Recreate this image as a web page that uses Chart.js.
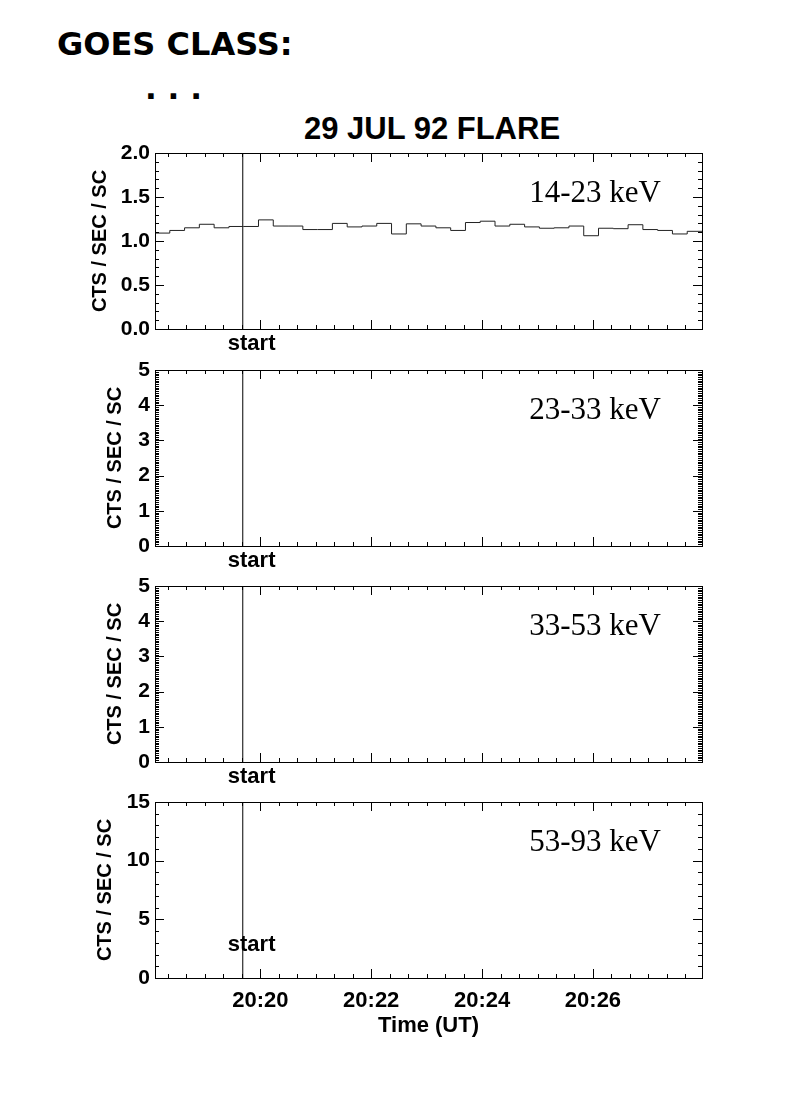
<!DOCTYPE html>
<html>
<head>
<meta charset="utf-8">
<script src="https://cdn.jsdelivr.net/npm/chart.js@4.4.0/dist/chart.umd.min.js"></script>
<style>
  body { margin: 0; background: #fff; }
  #page { position: relative; width: 790px; height: 1118px; overflow: hidden; background: #fff; }
  .txt { position: absolute; line-height: 1; white-space: nowrap; color: #000; }
  canvas { position: absolute; left: 0; }
</style>
</head>
<body>
<div id="page">
  <div class="txt" style="left:57px;top:25px;font:bold 32px 'DejaVu Sans';">GOES CLASS:</div>
  <div class="txt" style="left:145px;top:70px;font:bold 31px 'DejaVu Sans';">. . .</div>
  <div class="txt" style="left:432px;top:111px;transform:translateX(-50%);font:bold 31px 'Liberation Sans';">29 JUL 92 FLARE</div>
</div>
<script>
// time in minutes after 20:00 UT
const binStart = 18 + 6 / 60;
const binWidth = 16 / 60;
const timeMax = binStart + 37 * binWidth;
const startTime = 19 + 41 / 60;
const timeLabels = [20, 22, 24, 26];

// 14-23 keV counts, 16 s bins
const lowRates = [1.09, 1.12, 1.15, 1.19, 1.15, 1.165, 1.165, 1.24, 1.17, 1.17,
  1.13, 1.13, 1.20, 1.16, 1.17, 1.20, 1.08, 1.195, 1.17, 1.15,
  1.12, 1.21, 1.225, 1.17, 1.19, 1.16, 1.145, 1.15, 1.17, 1.06,
  1.145, 1.14, 1.185, 1.13, 1.12, 1.08, 1.11];

const bandLabels = ['14-23 keV', '23-33 keV', '33-53 keV', '53-93 keV'];
const yMax = [2, 5, 5, 15];
const yMajorStep = [0.5, 1, 1, 5];
const yMinorStep = [0.1, 0.05, 0.05, 1];
const yDecimals = [1, 0, 0, 0];

const panelTop = [153, 370, 586, 802];
const panelHeight = 176;
const padTop = 24;
const yTitleX = [100, 115.5, 115.5, 105.5];

Chart.defaults.color = '#000';
Chart.defaults.font.family = "'Liberation Sans', Arial, sans-serif";
Chart.defaults.font.weight = 'bold';

// IDL style frame with ticks pointing inward on all four sides
const inwardTicks = {
  id: 'inwardTicks',
  afterDatasetsDraw(chart, args, opts) {
    const { ctx, chartArea: { left, right, top, bottom }, scales: { x, y } } = chart;
    ctx.save();
    ctx.strokeStyle = '#000';
    ctx.lineWidth = 1;
    ctx.beginPath();
    for (let k = Math.ceil(x.min * 3); k <= Math.floor(x.max * 3); k++) {
      const px = Math.round(x.getPixelForValue(k / 3)) + 0.5;
      const len = k % 6 === 0 ? 9 : 4;
      ctx.moveTo(px, bottom); ctx.lineTo(px, bottom - len);
      ctx.moveTo(px, top); ctx.lineTo(px, top + len);
    }
    const n = Math.round(y.max / opts.minor);
    const every = Math.round(opts.major / opts.minor);
    for (let k = 1; k < n; k++) {
      const py = Math.round(y.getPixelForValue(k * opts.minor)) + 0.5;
      const len = k % every === 0 ? 9 : 4;
      ctx.moveTo(left, py); ctx.lineTo(left + len, py);
      ctx.moveTo(right, py); ctx.lineTo(right - len, py);
    }
    ctx.stroke();
    ctx.strokeRect(Math.round(left) + 0.5, Math.round(top) + 0.5,
      Math.round(right - left), Math.round(bottom - top));
    ctx.restore();
  },
};

const panelText = {
  id: 'panelText',
  afterDraw(chart, args, opts) {
    const { ctx, chartArea: { top, bottom, right }, scales: { x } } = chart;
    ctx.save();
    ctx.fillStyle = '#000';
    ctx.font = "31px 'Liberation Serif'";
    ctx.textAlign = 'right';
    ctx.textBaseline = 'middle';
    ctx.fillText(opts.band, right - 41, top + 41);
    ctx.font = "bold 22px 'Liberation Sans'";
    ctx.textAlign = 'left';
    const sx = x.getPixelForValue(startTime);
    ctx.fillText('start', sx - 15, opts.inside ? bottom - 33 : bottom + 15);
    ctx.restore();
  },
};

const page = document.getElementById('page');

bandLabels.forEach((band, i) => {
  const last = i === bandLabels.length - 1;
  const bottomSpace = last ? 70 : 32;
  const canvas = document.createElement('canvas');
  canvas.width = 790;
  canvas.height = padTop + panelHeight + bottomSpace;
  canvas.style.top = (panelTop[i] - padTop) + 'px';
  page.appendChild(canvas);

  const datasets = [];
  if (i === 0) {
    const pts = lowRates.map((v, j) => ({ x: binStart + j * binWidth, y: v }));
    pts.push({ x: timeMax, y: lowRates[lowRates.length - 1] });
    datasets.push({
      data: pts,
      borderColor: '#222',
      borderWidth: 1,
      pointRadius: 0,
      stepped: 'before',
    });
  }
  datasets.push({
    data: [{ x: startTime, y: 0 }, { x: startTime, y: yMax[i] }],
    borderColor: '#000',
    borderWidth: 1,
    pointRadius: 0,
  });

  new Chart(canvas.getContext('2d'), {
    type: 'line',
    data: { datasets },
    options: {
      responsive: false,
      animation: false,
      events: [],
      layout: { padding: { top: padTop, right: 88, bottom: 0, left: 0 } },
      scales: {
        x: {
          type: 'linear',
          min: binStart,
          max: timeMax,
          grid: { display: false, drawTicks: false },
          border: { display: false },
          afterBuildTicks: (s) => { s.ticks = timeLabels.map((v) => ({ value: v })); },
          afterFit: (s) => { s.height = bottomSpace; },
          ticks: {
            display: last,
            padding: 10,
            maxRotation: 0,
            autoSkip: false,
            font: { size: 22 },
            callback: (v) => '20:' + String(v).padStart(2, '0'),
          },
          title: {
            display: last,
            text: 'Time (UT)',
            font: { size: 22 },
            padding: { top: 0, bottom: 9 },
          },
        },
        y: {
          min: 0,
          max: yMax[i],
          grid: { display: false, drawTicks: false },
          border: { display: false },
          afterFit: (s) => { s.width = 155; },
          ticks: {
            stepSize: yMajorStep[i],
            padding: 5,
            font: { size: 21 },
            callback: (v) => Number(v).toFixed(yDecimals[i]),
          },
          title: {
            display: true,
            text: 'CTS / SEC / SC',
            font: { size: 20 },
            padding: { top: yTitleX[i] - 12, bottom: 0 },
          },
        },
      },
      plugins: {
        legend: { display: false },
        tooltip: { enabled: false },
        inwardTicks: { major: yMajorStep[i], minor: yMinorStep[i] },
        panelText: { band, inside: last },
      },
    },
    plugins: [inwardTicks, panelText],
  });
});
</script>
</body>
</html>
